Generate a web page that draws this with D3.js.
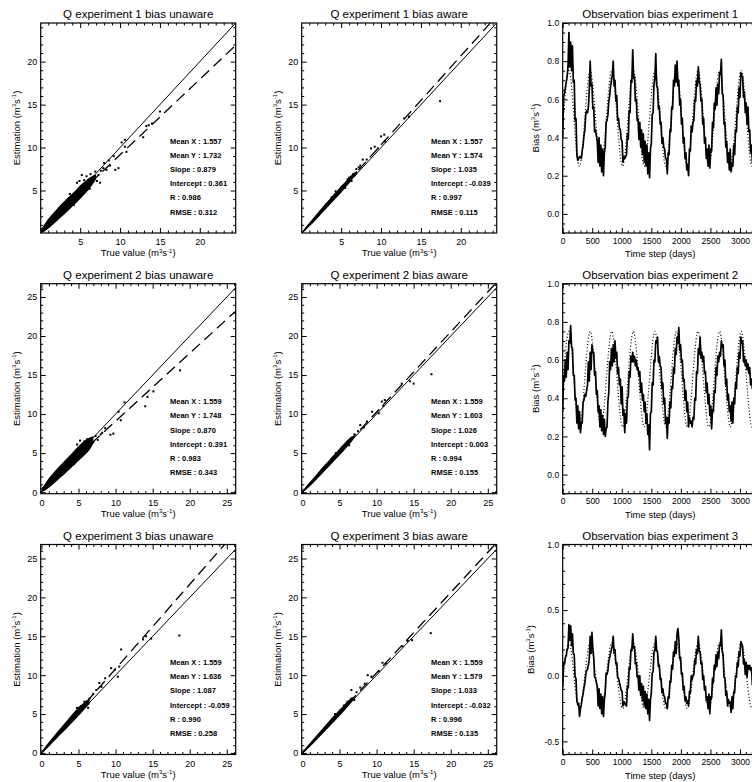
<!DOCTYPE html>
<html>
<head>
<meta charset="utf-8">
<script src="https://cdn.jsdelivr.net/npm/d3@7"></script>
<style>
  body { margin: 0; background: #fff; }
  text { font-family: "Liberation Sans", Arial, sans-serif; fill: #000; }
</style>
</head>
<body>
<div id="chart"></div>
<script>
// Section 1 Data

var scatterTitles = [
    "Q experiment 1 bias unaware", "Q experiment 1 bias aware",
    "Q experiment 2 bias unaware", "Q experiment 2 bias aware",
    "Q experiment 3 bias unaware", "Q experiment 3 bias aware"
];
var seriesTitles = ["Observation bias experiment 1", "Observation bias experiment 2", "Observation bias experiment 3"];

// Statistics printed in each scatter panel (same order as the titles)
var meanX = [1.557, 1.557, 1.559, 1.559, 1.559, 1.559];
var meanY = [1.732, 1.574, 1.748, 1.603, 1.636, 1.579];
var slope = [0.879, 1.035, 0.870, 1.026, 1.087, 1.033];
var intercept = [0.361, -0.039, 0.391, 0.003, -0.059, -0.032];
var rValue = [0.986, 0.997, 0.983, 0.994, 0.990, 0.996];
var rmse = [0.312, 0.115, 0.343, 0.155, 0.258, 0.135];

// Dense core of each cloud: [true value, lowest estimate, highest estimate]
var cloud1u = [[0.1,0.02,0.4],[0.5,0.2,1.05],[1,0.55,1.7],[1.5,0.95,2.25],[2,1.35,2.75],[2.5,1.8,3.3],[3,2.2,3.75],[3.5,2.65,4.2],[4,3.1,4.65],[4.5,3.55,5.1],[5,4.0,5.6],[5.5,4.5,6.0],[6,5.0,6.4],[6.5,5.6,6.7],[7,6.3,6.85]];
var cloud1a = [[0.05,0,0.15],[0.5,0.35,0.7],[1,0.8,1.25],[1.5,1.25,1.8],[2,1.75,2.35],[2.5,2.25,2.9],[3,2.75,3.45],[3.5,3.25,3.95],[4,3.75,4.5],[4.5,4.25,5.0],[5,4.75,5.55],[5.5,5.3,6.0],[6,5.8,6.55],[6.5,6.4,7.0],[7,6.9,7.3]];
var cloud2u = [[0.1,0.02,0.45],[0.5,0.2,1.1],[1,0.55,1.8],[1.5,0.95,2.35],[2,1.35,2.9],[2.5,1.8,3.4],[3,2.2,3.9],[3.5,2.65,4.4],[4,3.1,4.9],[4.5,3.55,5.4],[5,4.0,5.9],[5.5,4.45,6.35],[6,4.9,6.75],[6.5,5.4,7.0],[7,6.2,7.2]];
var cloud2a = [[0.05,0,0.2],[0.5,0.3,0.75],[1,0.75,1.3],[1.5,1.2,1.85],[2,1.7,2.4],[2.5,2.2,2.95],[3,2.7,3.5],[3.5,3.2,4.0],[4,3.7,4.55],[4.5,4.2,5.05],[5,4.7,5.6],[5.5,5.2,6.1],[6,5.75,6.6],[6.5,6.3,7.05],[7,6.9,7.3]];
var cloud3u = [[0.05,0,0.2],[0.5,0.35,0.8],[1,0.8,1.4],[1.5,1.3,2.0],[2,1.8,2.55],[2.5,2.3,3.1],[3,2.75,3.7],[3.5,3.25,4.25],[4,3.75,4.8],[4.5,4.25,5.35],[5,4.75,5.9],[5.5,5.25,6.3],[6,5.8,6.7],[6.5,6.3,6.95]];
var cloud3a = [[0.05,0,0.18],[0.5,0.33,0.72],[1,0.8,1.28],[1.5,1.25,1.82],[2,1.75,2.38],[2.5,2.25,2.92],[3,2.75,3.48],[3.5,3.25,4.0],[4,3.75,4.55],[4.5,4.25,5.05],[5,4.75,5.6],[5.5,5.25,6.05],[6,5.8,6.6],[6.5,6.35,7.0],[7,6.9,7.3]];

// Isolated points outside the cores: [true value, estimation]
var pts1u = [[5.2,6.8],[5.8,6.65],[5.5,6.2],[6.3,6.9],[6.6,6.3],[7.1,6.1],[7.5,5.9],[7.3,6.8],[7.9,7.6],[8.3,7.4],[8.75,7.9],[9.4,7.4],[9.8,7.6],[9.2,9.0],[10.2,10.6],[10.6,10.9],[10.6,10.1],[10.8,9.5],[12.9,11.2],[13.3,12.5],[13.6,12.6],[14.0,12.8],[15.0,14.2],[8.0,8.2],[8.6,8.5],[6.9,7.2],[7.6,7.3],[4.6,5.9],[4.9,6.1],[3.7,4.6],[4.2,3.3],[6.2,5.2]];
var pts1a = [[6.0,6.5],[6.5,6.9],[6.9,7.5],[7.2,7.7],[7.7,8.6],[7.4,7.9],[8.2,8.6],[8.75,9.9],[9.2,10.1],[9.6,9.9],[10.0,11.3],[10.4,11.5],[10.5,10.7],[12.9,13.4],[13.5,13.6],[17.4,15.4],[6.3,6.1],[5.5,5.3],[4.3,4.9],[5.8,6.3],[3.8,4.2]];
var pts2u = [[5.8,6.5],[6.4,6.3],[6.2,6.8],[7.0,6.4],[7.6,6.7],[7.3,7.2],[8.0,7.4],[8.2,7.6],[8.6,8.2],[9.3,7.35],[9.7,7.5],[10.7,9.2],[10.4,10.3],[11.2,11.5],[14.0,11.0],[14.3,12.2],[15.1,12.9],[18.7,15.6],[4.8,6.1],[5.2,6.6],[6.0,5.4],[4.4,3.6]];
var pts2a = [[6.0,6.3],[6.6,6.9],[7.0,7.4],[7.5,7.8],[7.8,8.6],[8.3,8.3],[8.7,9.05],[9.4,10.3],[10.3,10.1],[10.7,11.6],[10.9,11.05],[11.1,11.8],[13.4,13.9],[14.5,14.2],[15.0,13.9],[17.4,15.1],[4.5,5.0],[5.4,5.8],[6.3,6.0]];
var pts3u = [[5.3,6.0],[5.8,6.6],[6.3,5.8],[6.5,7.0],[7.0,7.6],[7.4,8.1],[7.8,9.0],[8.1,8.5],[8.6,9.6],[9.4,10.9],[9.9,10.7],[10.3,9.8],[10.5,11.1],[10.75,13.3],[13.7,14.6],[14.1,15.0],[14.8,14.7],[18.6,15.1],[4.8,5.8],[6.0,6.4]];
var pts3a = [[5.6,6.1],[6.1,6.6],[6.6,7.0],[7.0,6.8],[7.3,7.8],[7.8,8.4],[8.4,8.9],[8.8,10.0],[9.3,9.8],[10.3,10.5],[10.8,11.6],[11.25,11.5],[13.5,13.7],[14.2,14.4],[14.8,14.5],[17.3,15.4],[6.6,8.1],[4.4,5.0]];

var clouds = [cloud1u, cloud1a, cloud2u, cloud2a, cloud3u, cloud3a];
var points = [pts1u, pts1a, pts2u, pts2a, pts3u, pts3a];

// Estimated observation bias, one value every 15 days (day 0 to 3240)
var biasDays = d3.range(0, 3241, 15);
var bias1 = [
    0.40,0.62,0.63,0.66,0.69,0.72,0.77,0.95,0.77,0.90,
    0.75,0.88,0.69,0.70,0.49,0.50,0.31,0.28,0.29,0.30,
    0.30,0.29,0.33,0.36,0.41,0.44,0.52,0.54,0.53,0.56,
    0.65,0.80,0.67,0.68,0.55,0.56,0.43,0.44,0.41,0.38,
    0.27,0.40,0.25,0.36,0.22,0.34,0.20,0.32,0.35,0.48,
    0.49,0.52,0.59,0.62,0.67,0.70,0.73,0.80,0.67,0.70,
    0.59,0.62,0.49,0.50,0.45,0.44,0.39,0.38,0.27,0.30,
    0.29,0.30,0.31,0.42,0.39,0.54,0.53,0.70,0.69,0.86,
    0.71,0.72,0.59,0.60,0.49,0.50,0.39,0.48,0.35,0.44,
    0.31,0.42,0.27,0.38,0.25,0.36,0.21,0.32,0.19,0.34,
    0.37,0.52,0.53,0.68,0.71,0.84,0.67,0.66,0.55,0.56,
    0.47,0.48,0.37,0.40,0.35,0.34,0.29,0.29,0.21,0.32,
    0.31,0.44,0.43,0.56,0.55,0.70,0.67,0.78,0.69,0.80,
    0.67,0.70,0.57,0.60,0.47,0.50,0.37,0.40,0.29,0.32,
    0.23,0.26,0.20,0.34,0.33,0.46,0.43,0.48,0.49,0.60,
    0.59,0.70,0.67,0.77,0.69,0.68,0.59,0.60,0.47,0.50,
    0.37,0.40,0.29,0.34,0.25,0.36,0.24,0.34,0.33,0.48,
    0.45,0.58,0.55,0.66,0.57,0.68,0.63,0.74,0.73,0.81,
    0.63,0.62,0.47,0.48,0.35,0.38,0.27,0.32,0.23,0.34,
    0.22,0.26,0.25,0.36,0.31,0.44,0.43,0.56,0.53,0.66,
    0.61,0.74,0.72,0.72,0.61,0.64,0.53,0.58,0.47,0.56,
    0.43,0.44,0.32,0.36,0.27,0.38,0.26
];
var bias2 = [
    0.33,0.52,0.49,0.60,0.51,0.64,0.55,0.70,0.69,0.78,
    0.67,0.66,0.52,0.52,0.39,0.40,0.27,0.36,0.24,0.33,
    0.22,0.27,0.27,0.38,0.39,0.42,0.41,0.44,0.47,0.59,
    0.49,0.64,0.55,0.68,0.64,0.64,0.52,0.54,0.42,0.44,
    0.33,0.36,0.25,0.34,0.23,0.31,0.21,0.29,0.20,0.24,
    0.25,0.38,0.43,0.59,0.55,0.66,0.57,0.68,0.59,0.70,
    0.61,0.64,0.53,0.56,0.47,0.50,0.37,0.46,0.31,0.34,
    0.22,0.32,0.27,0.40,0.41,0.54,0.51,0.62,0.59,0.64,
    0.59,0.62,0.57,0.60,0.55,0.56,0.52,0.54,0.43,0.48,
    0.39,0.42,0.33,0.38,0.27,0.32,0.21,0.26,0.13,0.32,
    0.33,0.48,0.47,0.60,0.59,0.70,0.69,0.72,0.59,0.62,
    0.57,0.56,0.45,0.48,0.37,0.40,0.27,0.30,0.19,0.30,
    0.27,0.38,0.35,0.46,0.45,0.56,0.53,0.66,0.63,0.72,
    0.69,0.77,0.65,0.68,0.59,0.60,0.49,0.50,0.39,0.44,
    0.33,0.38,0.25,0.30,0.27,0.28,0.25,0.30,0.29,0.40,
    0.39,0.54,0.53,0.66,0.63,0.72,0.61,0.64,0.59,0.62,
    0.53,0.54,0.43,0.48,0.37,0.42,0.31,0.36,0.24,0.34,
    0.33,0.44,0.43,0.56,0.52,0.62,0.59,0.64,0.62,0.70,
    0.67,0.68,0.57,0.60,0.47,0.50,0.39,0.42,0.33,0.36,
    0.28,0.38,0.27,0.40,0.37,0.48,0.45,0.56,0.53,0.64,
    0.61,0.72,0.69,0.70,0.59,0.62,0.57,0.60,0.55,0.58,
    0.53,0.56,0.47,0.50,0.45,0.48,0.40
];
var bias3 = [
    -0.09,0.10,0.09,0.14,0.15,0.20,0.21,0.39,0.27,0.38,
    0.23,0.32,0.17,0.16,-0.01,-0.02,-0.19,-0.22,-0.21,-0.31,
    -0.25,-0.22,-0.17,-0.14,-0.09,-0.06,0.01,0.04,0.05,0.08,
    0.13,0.30,0.17,0.33,0.21,0.14,-0.01,-0.02,-0.05,-0.08,
    -0.23,-0.10,-0.25,-0.14,-0.29,-0.16,-0.31,-0.18,-0.13,0.02,
    0.01,0.04,0.11,0.14,0.17,0.20,0.23,0.30,0.17,0.20,
    0.09,0.10,-0.01,-0.02,-0.05,-0.08,-0.11,-0.12,-0.23,-0.20,
    -0.21,-0.22,-0.23,-0.08,-0.09,0.06,0.05,0.20,0.19,0.32,
    0.21,0.22,0.09,0.10,-0.01,0.00,-0.11,0.00,-0.15,-0.06,
    -0.19,-0.08,-0.23,-0.12,-0.25,-0.14,-0.29,-0.18,-0.34,-0.18,
    -0.13,0.02,0.03,0.18,0.19,0.30,0.19,0.18,0.07,0.08,
    -0.03,-0.02,-0.13,-0.10,-0.15,-0.16,-0.21,-0.21,-0.25,-0.16,
    -0.17,-0.04,-0.05,0.08,0.05,0.18,0.15,0.26,0.17,0.32,
    0.36,0.28,0.13,0.14,0.01,0.02,-0.11,-0.08,-0.19,-0.16,
    -0.21,-0.19,-0.23,-0.12,-0.13,0.00,-0.03,0.00,0.01,0.12,
    0.09,0.20,0.17,0.30,0.19,0.18,0.09,0.10,-0.03,0.00,
    -0.11,-0.08,-0.19,-0.16,-0.25,-0.14,-0.29,-0.16,-0.17,-0.02,
    -0.05,0.08,0.05,0.16,0.07,0.18,0.13,0.24,0.23,0.35,
    0.19,0.16,-0.01,-0.02,-0.15,-0.12,-0.23,-0.18,-0.21,-0.20,
    -0.28,-0.16,-0.25,-0.12,-0.13,0.00,-0.01,0.10,0.07,0.18,
    0.15,0.26,0.24,0.22,0.09,0.12,0.01,0.10,-0.01,0.08,
    0.05,0.08,0.04,0.06,-0.07,0.04,-0.09
];

// True (prescribed) bias, read at its peaks, troughs and mid crossings
var trueDays = [0,9,100,191,283,374,465,556,648,739,830,921,1013,1104,1195,1286,1378,1469,1560,1651,1743,1834,1925,2016,2108,2199,2290,2381,2473,2564,2655,2746,2838,2929,3020,3111,3203,3294];
var trueBias12 = [0.46,0.50,0.75,0.50,0.25,0.50,0.75,0.50,0.25,0.50,0.75,0.50,0.25,0.50,0.75,0.50,0.25,0.50,0.75,0.50,0.25,0.50,0.75,0.50,0.25,0.50,0.75,0.50,0.25,0.50,0.75,0.50,0.25,0.50,0.75,0.50,0.25,0.50];
var trueBias3 = [-0.04,0.00,0.25,0.00,-0.25,0.00,0.25,0.00,-0.25,0.00,0.25,0.00,-0.25,0.00,0.25,0.00,-0.25,0.00,0.25,0.00,-0.25,0.00,0.25,0.00,-0.25,0.00,0.25,0.00,-0.25,0.00,0.25,0.00,-0.25,0.00,0.25,0.00,-0.25,0.00];

// Section 2 Layout

var width = 752;
var height = 782;
var panelW = 195;
var panelH = 210;
var colLeft = [40.7, 301.7, 562.7];
var rowTop = [23, 283.7, 544.5];

var svg = d3
    .select("#chart")
    .append("svg")
    .attr("width", width)
    .attr("height", height);

// Writes "<prefix> (m3s-1)" with superscripts
function unitLabel(sel, prefix) {
    sel.append("tspan").text(prefix + " (m");
    sel.append("tspan").attr("font-size", "6px").attr("dy", -3.5).text("3");
    sel.append("tspan").attr("dy", 3.5).text("s");
    sel.append("tspan").attr("font-size", "6px").attr("dy", -3.5).text("-1");
    sel.append("tspan").attr("dy", 3.5).text(")");
}

// Inward ticks on all four sides, like IDL plots
function drawFrame(g, x, y, ax) {
    var bottom = g.append("g").attr("transform", "translate(0," + panelH + ")");
    bottom.call(d3.axisBottom(x).tickValues(ax.xMajor).tickSize(-5).tickPadding(ax.xPad).tickFormat(ax.xFmt));
    g.append("g").attr("transform", "translate(0," + panelH + ")")
        .call(d3.axisBottom(x).tickValues(ax.xMinor).tickSize(-2.5).tickFormat(""));
    g.append("g").call(d3.axisTop(x).tickValues(ax.xMajor).tickSize(-5).tickFormat(""));
    g.append("g").call(d3.axisTop(x).tickValues(ax.xMinor).tickSize(-2.5).tickFormat(""));

    g.append("g").call(d3.axisLeft(y).tickValues(ax.yMajor).tickSize(-5).tickPadding(3.5).tickFormat(ax.yFmt));
    g.append("g").call(d3.axisLeft(y).tickValues(ax.yMinor).tickSize(-2.5).tickFormat(""));
    g.append("g").attr("transform", "translate(" + panelW + ",0)")
        .call(d3.axisRight(y).tickValues(ax.yMajor).tickSize(-5).tickFormat(""));
    g.append("g").attr("transform", "translate(" + panelW + ",0)")
        .call(d3.axisRight(y).tickValues(ax.yMinor).tickSize(-2.5).tickFormat(""));

    g.selectAll(".domain").remove();
    g.selectAll(".tick line").attr("stroke", "#000").attr("stroke-width", 1);
    g.selectAll(".tick text")
        .attr("font-family", "Liberation Sans, Arial, sans-serif")
        .attr("font-size", ax.fontSize)
        .attr("fill", "#000");

    g.append("rect")
        .attr("width", panelW)
        .attr("height", panelH)
        .attr("fill", "none")
        .attr("stroke", "#000")
        .attr("stroke-width", 1.2);
}

function minorTicks(lo, hi, step, every) {
    return d3.range(lo, hi + step / 2, step).filter(function(v) {
        return Math.abs(v / every - Math.round(v / every)) > 1e-6;
    });
}

// Section 3 Scatter panels

var scatterDomains = [
    {x: [0.05, 24.5], y: [0.05, 24.5], major: [5, 10, 15, 20]},
    {x: [-0.1, 26.2], y: [-0.2, 26.7], major: [0, 5, 10, 15, 20, 25]},
    {x: [-0.1, 26.2], y: [-0.2, 26.8], major: [0, 5, 10, 15, 20, 25]}
];

function scatterPanel(i) {
    var row = Math.floor(i / 2);
    var col = i % 2;
    var dom = scatterDomains[row];
    var g = svg.append("g")
        .attr("transform", "translate(" + colLeft[col] + "," + rowTop[row] + ")");

    var x = d3.scaleLinear().domain(dom.x).range([0, panelW]);
    var y = d3.scaleLinear().domain(dom.y).range([panelH, 0]);

    g.append("clipPath").attr("id", "clip" + i)
        .append("rect").attr("width", panelW).attr("height", panelH);
    var plot = g.append("g").attr("clip-path", "url(#clip" + i + ")");

    // dense core
    var area = d3.area()
        .x(function(d) { return x(d[0]); })
        .y0(function(d) { return y(d[1]); })
        .y1(function(d) { return y(d[2]); });
    plot.append("path").datum(clouds[i]).attr("d", area).attr("fill", "#000");

    plot.selectAll("rect.pt")
        .data(points[i])
        .join("rect")
        .attr("class", "pt")
        .attr("x", function(d) { return x(d[0]) - 1; })
        .attr("y", function(d) { return y(d[1]) - 1; })
        .attr("width", 2)
        .attr("height", 2)
        .attr("fill", "#000");

    // 1:1 line
    var lo = Math.min(dom.x[0], dom.y[0]);
    var hi = Math.max(dom.x[1], dom.y[1]);
    plot.append("line")
        .attr("x1", x(lo)).attr("y1", y(lo))
        .attr("x2", x(hi)).attr("y2", y(hi))
        .attr("stroke", "#000").attr("stroke-width", 1);

    // regression line
    var x0 = Math.max(0, dom.x[0]);
    plot.append("line")
        .attr("x1", x(x0)).attr("y1", y(slope[i] * x0 + intercept[i]))
        .attr("x2", x(dom.x[1])).attr("y2", y(slope[i] * dom.x[1] + intercept[i]))
        .attr("stroke", "#000").attr("stroke-width", 1.3)
        .attr("stroke-dasharray", "11,6");

    drawFrame(g, x, y, {
        xMajor: dom.major, xMinor: minorTicks(1, 26, 1, 5),
        yMajor: dom.major, yMinor: minorTicks(1, 26, 1, 5),
        xFmt: d3.format("d"), yFmt: d3.format("d"),
        xPad: 6, fontSize: "9px"
    });
    g.selectAll(".tick").filter(function(d) { return d > dom.x[1] || d < dom.x[0]; }).remove();

    // statistics block
    var lines = [
        "Mean X : " + meanX[i].toFixed(3),
        "Mean Y : " + meanY[i].toFixed(3),
        "Slope : " + slope[i].toFixed(3),
        "Intercept : " + intercept[i].toFixed(3),
        "R : " + rValue[i].toFixed(3),
        "RMSE : " + rmse[i].toFixed(3)
    ];
    g.selectAll("text.stat")
        .data(lines)
        .join("text")
        .attr("class", "stat")
        .attr("x", 129.3)
        .attr("y", function(d, k) { return 120.5 + k * 14.2; })
        .attr("font-size", "7.5px")
        .attr("font-weight", "bold")
        .text(function(d) { return d; });

    g.append("text")
        .attr("x", panelW / 2).attr("y", -5)
        .attr("text-anchor", "middle")
        .attr("font-size", "11.5px")
        .text(scatterTitles[i]);

    var xl = g.append("text")
        .attr("x", panelW / 2).attr("y", panelH + 23)
        .attr("text-anchor", "middle")
        .attr("font-size", "9.5px");
    unitLabel(xl, "True value");

    var yl = g.append("text")
        .attr("transform", "translate(-21," + panelH / 2 + ") rotate(-90)")
        .attr("text-anchor", "middle")
        .attr("font-size", "9.5px");
    unitLabel(yl, "Estimation");
}

for (var i = 0; i < 6; i++) {
    scatterPanel(i);
}

// Section 4 Bias time series

var seriesValues = [bias1, bias2, bias3];
var trueValues = [trueBias12, trueBias12, trueBias3];
var seriesDomains = [
    {y: [-0.1, 1.0], major: [0, 0.2, 0.4, 0.6, 0.8, 1.0], minorStep: 0.05, labelX: -24},
    {y: [-0.1, 1.0], major: [0, 0.2, 0.4, 0.6, 0.8, 1.0], minorStep: 0.05, labelX: -24},
    {y: [-0.6, 1.0], major: [-0.5, 0, 0.5, 1.0], minorStep: 0.1, labelX: -29}
];

function seriesPanel(row) {
    var dom = seriesDomains[row];
    var g = svg.append("g")
        .attr("transform", "translate(" + colLeft[2] + "," + rowTop[row] + ")");

    var x = d3.scaleLinear().domain([0, 3300]).range([0, panelW]);
    var y = d3.scaleLinear().domain(dom.y).range([panelH, 0]);

    g.append("clipPath").attr("id", "sclip" + row)
        .append("rect").attr("width", panelW).attr("height", panelH);
    var plot = g.append("g").attr("clip-path", "url(#sclip" + row + ")");

    var trueLine = d3.line()
        .curve(d3.curveNatural)
        .x(function(d, k) { return x(trueDays[k]); })
        .y(function(d) { return y(d); });
    plot.append("path")
        .datum(trueValues[row])
        .attr("d", trueLine)
        .attr("fill", "none")
        .attr("stroke", "#000")
        .attr("stroke-width", 1.2)
        .attr("stroke-dasharray", "1,2.2");

    var biasLine = d3.line()
        .x(function(d, k) { return x(biasDays[k]); })
        .y(function(d) { return y(d); });
    plot.append("path")
        .datum(seriesValues[row])
        .attr("d", biasLine)
        .attr("fill", "none")
        .attr("stroke", "#000")
        .attr("stroke-width", 1.7)
        .attr("stroke-linejoin", "round");

    var yMinor = d3.range(dom.y[0], dom.y[1] + 1e-6, dom.minorStep)
        .map(function(v) { return Math.round(v * 100) / 100; })
        .filter(function(v) { return dom.major.indexOf(v) < 0; });

    drawFrame(g, x, y, {
        xMajor: [0, 500, 1000, 1500, 2000, 2500, 3000],
        xMinor: minorTicks(100, 3300, 100, 500),
        yMajor: dom.major, yMinor: yMinor,
        xFmt: d3.format("d"),
        yFmt: function(d) { return d.toFixed(1); },
        xPad: 4.5, fontSize: "8.5px"
    });

    g.append("text")
        .attr("x", panelW / 2).attr("y", -5)
        .attr("text-anchor", "middle")
        .attr("font-size", "11.5px")
        .text(seriesTitles[row]);

    g.append("text")
        .attr("x", panelW / 2).attr("y", panelH + 24)
        .attr("text-anchor", "middle")
        .attr("font-size", "9.5px")
        .text("Time step (days)");

    var yl = g.append("text")
        .attr("transform", "translate(" + dom.labelX + "," + panelH / 2 + ") rotate(-90)")
        .attr("text-anchor", "middle")
        .attr("font-size", "9.5px");
    unitLabel(yl, "Bias");
}

for (var r = 0; r < 3; r++) {
    seriesPanel(r);
}
</script>
</body>
</html>
